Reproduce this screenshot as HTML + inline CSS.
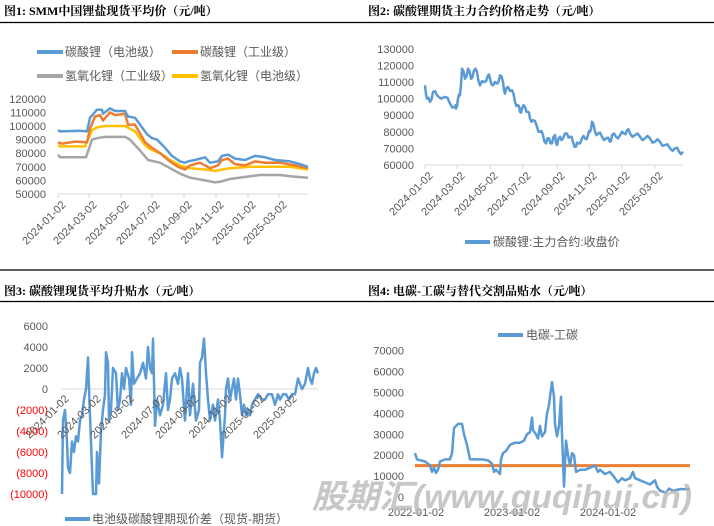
<!DOCTYPE html>
<html><head><meta charset="utf-8">
<style>
html,body{margin:0;padding:0;background:#fff;}
svg{display:block;font-family:"Liberation Sans","Noto Sans CJK SC",sans-serif;}
.t{font-family:"Liberation Serif","Noto Serif CJK SC",serif;font-weight:bold;font-size:12px;fill:#000;}
.yl{font-size:11px;fill:#595959;text-anchor:end;}
.r{fill:#ff0000;}
.dl{font-size:11px;fill:#595959;text-anchor:end;}
.lg{font-size:12px;fill:#595959;}
</style></head><body>
<svg id="s" width="714" height="526" viewBox="0 0 714 526" xmlns="http://www.w3.org/2000/svg">
<!-- titles -->
<text class="t" x="4" y="15">图1:  SMM中国锂盐现货平均价（元/吨）</text>
<line x1="0" y1="22.5" x2="357" y2="22.5" stroke="#000" stroke-width="1.2"/>
<text class="t" x="368" y="15">图2: 碳酸锂期货主力合约价格走势（元/吨）</text>
<line x1="357" y1="22.5" x2="714" y2="22.5" stroke="#000" stroke-width="1.2"/>
<line x1="0" y1="270" x2="714" y2="270" stroke="#000" stroke-width="1.2"/>
<text class="t" x="4" y="295">图3: 碳酸锂现货平均升贴水（元/吨）</text>
<text class="t" x="368" y="295">图4: 电碳-工碳与替代交割品贴水（元/吨）</text>
<line x1="0" y1="301.5" x2="714" y2="301.5" stroke="#000" stroke-width="1.2"/>
<g id="g"></g>
<text x="312" y="508" font-size="33" font-weight="bold" font-style="italic" fill="#b4b4b4" fill-opacity="0.75" textLength="380" lengthAdjust="spacingAndGlyphs" font-family="Liberation Sans,Noto Sans CJK SC,sans-serif">股期汇(www.guqihui.cn)</text>
</svg>
<script>
var g=document.getElementById('g'),h='';
function pl(pts,fy,col,w){h+='<polyline fill="none" stroke="'+col+'" stroke-width="'+w+'" stroke-linejoin="round" points="'+pts.map(function(p){return p[0]+','+fy(p[1]).toFixed(1)}).join(' ')+'"/>';}
function tx(x,y,s,c,extra){h+='<text class="'+c+'" x="'+x+'" y="'+y+'" '+(extra||'')+'>'+s+'</text>';}
// Panel 1
var y1=function(v){return 194-(v-50000)*13.6/10000};
for(var v=50000;v<=120000;v+=10000)tx(46,y1(v)+4,v,'yl');
h+='<line x1="58" y1="194" x2="308" y2="194" stroke="#d9d9d9"/>';
var d1=['2024-01-02','2024-03-02','2024-05-02','2024-07-02','2024-09-02','2024-11-02','2025-01-02','2025-03-02'],t1=[58,89,121,152,184,216,248,279];
t1.forEach(function(x,i){h+='<line x1="'+x+'" y1="194" x2="'+x+'" y2="198" stroke="#d9d9d9"/>';tx(x+3,200,d1[i],'dl','transform="rotate(-45 '+(x+3)+' 200)" dy="0.7em"');});
var k=1000;
pl([[58,79],[60,77],[86,77],[92,90],[97,91],[105,92],[125,92],[130,90],[140,82],[148,75],[160,73],[170,69],[180,65],[190,62],[205,60],[215,58.5],[220,59],[230,61],[250,63],[260,64],[280,64],[290,63],[308,62]].map(function(p){return [p[0],p[1]*k]}),y1,'#a5a5a5',2.5);
pl([[58,86],[60,85],[85,85],[92,97],[97,99],[105,100],[125,100],[135,96],[145,86],[150,83],[160,80],[170,75],[180,71],[190,69],[205,68],[215,67],[230,69],[250,70],[270,70],[290,70],[308,68]].map(function(p){return [p[0],p[1]*k]}),y1,'#ffc000',2.5);
pl([[58,88],[62,87],[75,88.5],[87,88],[90,98],[95,107],[100,108],[103,104],[110,110],[115,108],[125,109],[128,101],[135,101],[145,88],[150,85],[160,80],[170,74],[178,70],[185,68],[190,71],[200,73],[210,69],[218,71],[222,75],[228,76],[235,72],[245,71],[255,74],[265,73],[280,73],[295,71],[308,69]].map(function(p){return [p[0],p[1]*k]}),y1,'#ed7d31',2.5);
pl([[58,97],[60,96],[80,96.5],[87,96],[90,106],[97,112],[102,112],[103,109],[110,113],[115,111],[125,111],[128,107],[135,106],[140,101],[147,94],[152,91],[157,90],[165,84],[172,78],[180,74],[185,73],[188,74],[195,75],[205,77],[210,73],[218,74],[222,78],[228,79],[235,76],[245,75],[255,78],[265,77],[275,75],[290,74],[300,72],[308,70]].map(function(p){return [p[0],p[1]*k]}),y1,'#5b9bd5',2.5);
h+='<line x1="37" y1="52" x2="63" y2="52" stroke="#5b9bd5" stroke-width="4"/>';tx(65,56,'碳酸锂（电池级）','lg');
h+='<line x1="172" y1="52" x2="198" y2="52" stroke="#ed7d31" stroke-width="4"/>';tx(200,56,'碳酸锂（工业级）','lg');
h+='<line x1="37" y1="76" x2="63" y2="76" stroke="#a5a5a5" stroke-width="4"/>';tx(65,80,'氢氧化锂（工业级）','lg');
h+='<line x1="172" y1="76" x2="198" y2="76" stroke="#ffc000" stroke-width="4"/>';tx(200,80,'氢氧化锂（电池级）','lg');
// Panel 2
var y2=function(v){return 165-(v-60000)*16.6/10000};
for(v=60000;v<=130000;v+=10000)tx(414,y2(v)+4,v,'yl');
h+='<line x1="425" y1="165" x2="683" y2="165" stroke="#d9d9d9"/>';
[425,457,490,523,557,589,622,655].forEach(function(x,i){h+='<line x1="'+x+'" y1="165" x2="'+x+'" y2="169" stroke="#d9d9d9"/>';tx(x+3,171,d1[i],'dl','transform="rotate(-45 '+(x+3)+' 171)" dy="0.7em"');});
var p2=[[425,108],[427,100],[430,98],[433,104],[437,102],[445,101],[450,97],[455,95],[456,94],[458,100],[460,102],[462,118],[465,112],[468,118],[471,112],[474,117],[477,116],[480,108],[484,110],[488,114],[490,112],[493,108],[497,109],[500,114],[503,110],[505,103],[508,107],[512,105],[515,98],[518,96],[520,92],[522,94],[525,95],[528,92],[530,88],[533,87],[537,83],[540,80],[543,78],[546,73],[549,76],[552,73],[555,78],[557,72],[560,77],[563,76],[567,79],[570,77],[573,74],[576,71],[578,73],[582,76],[585,76],[588,78],[590,80],[592,86],[595,80],[598,79],[602,77],[606,76],[610,74],[612,78],[616,77],[620,78],[624,79],[627,81],[630,79],[635,78],[640,77],[645,76],[650,76],[655,74],[660,74],[665,72],[670,70],[675,70],[679,68],[683,68]];
var q2=[];for(var i=0;i<p2.length-1;i++){q2.push([p2[i][0],p2[i][1]*k]);q2.push([(p2[i][0]+p2[i+1][0])/2,((p2[i][1]+p2[i+1][1])/2+((i%2)?1.5:-1.5))*k]);}q2.push([683,68000]);
pl(q2,y2,'#5b9bd5',2.5);
h+='<line x1="465" y1="242" x2="490" y2="242" stroke="#5b9bd5" stroke-width="4"/>';tx(493,246,'碳酸锂:主力合约:收盘价','lg');
// Panel 3
var y3=function(v){return 389-v*21/2000};
for(v=-10000;v<=6000;v+=2000){var s=v<0?'('+(-v)+')':v;tx(48,y3(v)+4,s,'yl'+(v<0?' r':''),v<0?'style="fill:#ff0000"':'');}
h+='<line x1="62" y1="389" x2="318" y2="389" stroke="#d9d9d9"/>';
var p3=[[62,-10000],[63,-3000],[65,-2000],[67,-5000],[68,-7500],[70,-8000],[72,-5000],[74,-6000],[76,-4500],[78,-5000],[80,-3000],[82,-2500],[84,-1000],[86,0],[88,3000],[89,0],[91,-5000],[93,-10000],[96,-10000],[97,-6000],[99,-9000],[101,-4000],[103,-2000],[105,-500],[106,3500],[108,2500],[109,-3000],[111,-2000],[113,2000],[116,1500],[118,-2000],[120,-1000],[122,1500],[124,0],[126,2000],[129,1000],[131,-1500],[132,3500],[134,500],[137,1000],[140,1500],[143,2500],[146,1000],[148,4000],[150,2000],[152,1500],[153,4800],[155,-3500],[157,-1000],[160,-2500],[163,-1500],[166,1500],[168,-2000],[170,-1000],[172,1000],[175,1500],[178,500],[180,2000],[182,1000],[185,-3000],[188,1500],[190,-2500],[193,500],[196,-3000],[199,-2000],[200,2500],[202,3000],[204,4800],[206,1500],[208,-1000],[210,-3000],[213,-1500],[215,-3000],[218,-1000],[220,-3000],[222,-6500],[225,-2500],[226,0],[228,1000],[230,-1000],[232,0],[234,1000],[236,-1000],[238,1000],[240,-500],[242,-2500],[244,-1500],[246,-2500],[248,-2000],[250,-2500],[252,-1500],[255,-1000],[258,-500],[262,-1000],[265,-1000],[268,-500],[272,-500],[275,-1500],[278,-500],[280,-1000],[283,-500],[286,-500],[289,-1000],[292,-500],[295,-500],[298,1000],[300,500],[302,0],[305,500],[308,2000],[310,1000],[312,500],[314,1500],[316,2000],[318,1500]];
pl(p3,y3,'#5b9bd5',2.5);
[62,94,127,158,192,225,258,290].forEach(function(x,i){tx(x+2,394,d1[i],'dl','transform="rotate(-45 '+(x+2)+' 394)" dy="0.7em"');});
h+='<line x1="65" y1="519" x2="90" y2="519" stroke="#5b9bd5" stroke-width="4"/>';tx(92,523,'电池级碳酸锂期现价差（现货-期货）','lg');
// Panel 4
var y4=function(v){return 497-v*20.9/10000};
for(v=0;v<=70000;v+=10000)tx(404,y4(v)+4,v,'yl');
[['2022-01-02',416],['2023-01-02',512],['2024-01-02',608]].forEach(function(d){tx(d[1],516,d[0],'dl','style="text-anchor:middle"');});
h+='<line x1="415" y1="465.6" x2="690" y2="465.6" stroke="#ed7d31" stroke-width="3"/>';
var p4=[[415,21],[417,18],[425,17],[428,16],[430,15],[432,12],[434,14],[436,11.5],[438,13],[440,17],[445,18],[450,18],[452,21],[454,33],[458,35],[462,35],[464,30],[467,25],[470,18],[476,18],[482,18],[488,17.5],[492,16],[494,12],[496,13],[498,12],[500,11],[501,18],[503,21],[506,22],[510,25],[515,26],[520,26],[524,27],[527,30],[530,31],[532,38],[533,32],[536,30],[538,28],[540,34],[542,29],[545,31],[547,40],[549,44],[550,48],[552,55],[554,48],[555,35],[557,29],[559,34],[561,48],[562,30],[564,5],[566,27],[568,20],[570,15],[572,21],[574,20],[576,12],[580,13],[585,13],[590,14],[595,15],[598,12],[600,13],[605,11],[610,12],[615,9],[618,7],[622,9],[625,8],[630,9],[633,12],[635,9],[640,8],[645,7],[650,6],[655,8],[657,5],[660,3],[666,2],[669,4],[673,3],[680,3.8],[690,3.8]].map(function(p){return [p[0],p[1]*k]});
pl(p4,y4,'#5b9bd5',2.5);
h+='<line x1="498" y1="335" x2="523" y2="335" stroke="#5b9bd5" stroke-width="4"/>';tx(526,339,'电碳-工碳','lg');
g.innerHTML=h;
</script>
</body></html>
